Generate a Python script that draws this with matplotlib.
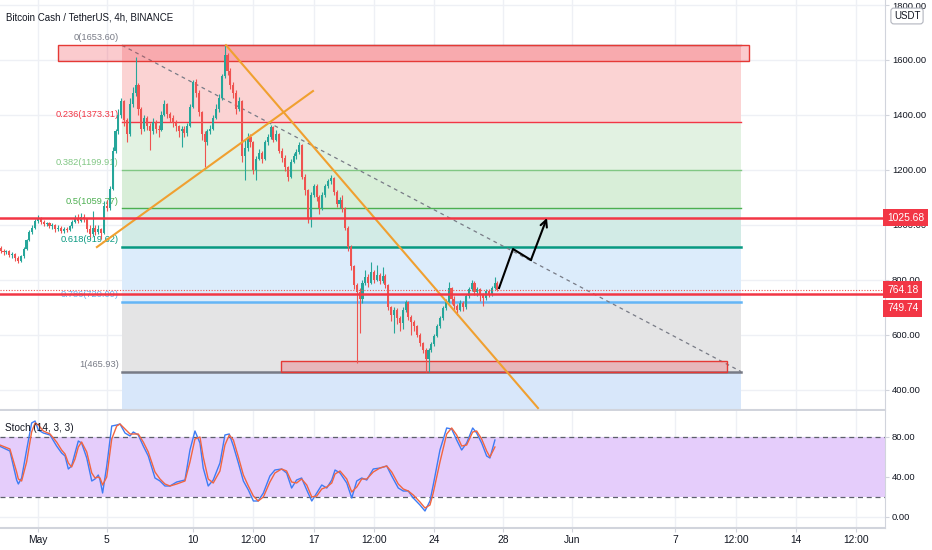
import numpy as np
import pandas as pd
import matplotlib
matplotlib.use("Agg")
import matplotlib.pyplot as plt
from matplotlib.patches import Rectangle

plt.rcParams['font.family'] = ['Liberation Sans', 'DejaVu Sans']

# --- BCH/USDT 4h candles, x = days since 2021-05-01
base = pd.Timestamp("2021-05-01")
first_open = 915
closes = [905, 900, 905, 890, 895, 878, 870, 885, 912, 945,
          975, 990, 1015, 1025, 1010, 1002, 1005, 995, 1000, 985,
          990, 978, 985, 982, 995, 1010, 1025, 1015, 1030, 1020,
          985, 965, 990, 975, 985, 970, 1070, 1060, 1130, 1270,
          1340, 1400, 1450, 1380, 1330, 1440, 1480, 1510, 1420, 1350,
          1390, 1360, 1340, 1375, 1350, 1345, 1400, 1440, 1405, 1390,
          1370, 1360, 1340, 1350, 1335, 1360, 1430, 1520, 1480, 1410,
          1330, 1300, 1340, 1350, 1390, 1420, 1460, 1540, 1620, 1560,
          1510, 1480, 1420, 1450, 1250, 1280, 1320, 1300, 1200, 1240,
          1260, 1240, 1300, 1320, 1356, 1310, 1330, 1270, 1245, 1210,
          1175, 1230, 1250, 1265, 1290, 1175, 1125, 1020, 1110, 1140,
          1100, 1060, 1110, 1140, 1160, 1170, 1120, 1075, 1090, 1060,
          990, 920, 850, 780, 755, 730, 790, 810, 790, 828,
          800, 818, 795, 815, 780, 700, 672, 690, 660, 643,
          690, 720, 665, 645, 630, 600, 570, 545, 510, 545,
          565, 595, 630, 660, 697, 720, 770, 730, 705, 690,
          715, 700, 740, 765, 790, 755, 765, 745, 735, 760,
          745, 770, 790, 764.18]
highs = [922, 912, 910, 908, 900, 898, 885, 890, 918, 950,
         982, 998, 1022, 1036, 1030, 1018, 1012, 1010, 1006, 1004,
         998, 995, 992, 992, 1000, 1018, 1035, 1040, 1042, 1038,
         1025, 1000, 1050, 998, 1000, 990, 1085, 1092, 1140, 1285,
         1350, 1420, 1462, 1455, 1390, 1462, 1500, 1611, 1515, 1430,
         1400, 1395, 1372, 1390, 1380, 1365, 1415, 1454, 1445, 1412,
         1398, 1380, 1365, 1360, 1358, 1372, 1440, 1527, 1530, 1490,
         1415, 1340, 1350, 1365, 1400, 1440, 1475, 1550, 1653.6, 1625,
         1570, 1520, 1490, 1465, 1455, 1310, 1335, 1330, 1305, 1250,
         1275, 1270, 1310, 1330, 1365, 1360, 1345, 1335, 1280, 1255,
         1215, 1240, 1262, 1275, 1300, 1295, 1185, 1130, 1120, 1150,
         1148, 1110, 1118, 1150, 1168, 1180, 1175, 1125, 1100, 1110,
         1065, 995, 925, 855, 790, 770, 800, 836, 820, 865,
         835, 855, 825, 845, 822, 785, 705, 700, 698, 668,
         700, 725, 722, 670, 652, 635, 605, 575, 550, 552,
         575, 602, 638, 668, 705, 730, 792, 775, 740, 712,
         725, 722, 748, 772, 798, 795, 775, 770, 752, 768,
         765, 778, 810, 795]
lows = [898, 890, 893, 882, 878, 868, 860, 866, 880, 908,
        940, 968, 985, 1008, 1002, 995, 994, 988, 985, 975,
        978, 970, 972, 975, 976, 990, 1005, 1008, 1010, 1012,
        975, 955, 960, 962, 968, 950, 965, 1050, 1055, 1125,
        1260, 1330, 1390, 1360, 1300, 1325, 1430, 1470, 1400, 1330,
        1340, 1345, 1272, 1330, 1335, 1320, 1340, 1395, 1390, 1375,
        1355, 1342, 1320, 1285, 1318, 1325, 1355, 1425, 1465, 1395,
        1310, 1210, 1290, 1330, 1345, 1385, 1410, 1455, 1535, 1545,
        1495, 1460, 1405, 1415, 1230, 1163, 1270, 1285, 1185, 1163,
        1235, 1225, 1235, 1290, 1312, 1300, 1305, 1260, 1230, 1195,
        1160, 1170, 1225, 1240, 1258, 1165, 1110, 1005, 992, 1100,
        1085, 1040, 1055, 1100, 1135, 1150, 1110, 1065, 1060, 1045,
        980, 905, 835, 765, 497, 606, 715, 780, 775, 785,
        790, 795, 785, 788, 770, 690, 650, 605, 640, 615,
        620, 682, 655, 600, 612, 590, 560, 535, 466, 466,
        538, 560, 590, 625, 655, 690, 715, 712, 690, 670,
        685, 688, 695, 735, 758, 745, 740, 722, 705, 728,
        738, 742, 765, 758]
candle_time = pd.date_range("2021-04-28 20:00", periods=len(closes), freq="4h")

# --- Fibonacci retracement (0 = 1653.60 high, 1 = 465.93 low)
fib_ratios = [0, 0.236, 0.382, 0.5, 0.618, 0.786, 1]
fib_prices = [1653.60, 1373.31, 1199.91, 1059.77, 919.62, 720.09, 465.93]
fib_colors = ['#787b86', '#f23645', '#81c784', '#4caf50', '#089981', '#64b5f6', '#787b86']
fib_fills = ['#fbd3d3', '#e2f2e2', '#d8eed8', '#d2ebe6', '#dcecfb', '#e4e4e5']
fib_below_fill = '#d8e7fa'
fib_days = [4.875, 40.8]

# drawings
zones = [(1.16, 41.27, 1596, 1653.6), (14.1, 39.99, 466, 505)]   # day0, day1, low, high
trend_down = ([10.91, 29.02], [1654, 333])
trend_up = ([3.42, 15.96], [919, 1487])
arrow_days = [26.76, 27.57, 28.61, 29.54]
arrow_prices = [770, 912, 872, 1025]
hlines = [1025.68, 749.74]
last_price = 764.18

# --- Stoch (14, 3, 3)
stoch_day = [-2.21, -1.63, -1.24, -1.14, -0.95, -0.66, -0.37, -0.17, 0.02, 0.31,
             0.70, 1.08, 1.37, 1.57, 1.76, 1.95, 2.15, 2.34, 2.53, 2.83,
             3.12, 3.31, 3.50, 3.60, 3.75, 3.99, 4.28, 4.57, 4.76, 5.05,
             5.34, 5.53, 5.82, 6.11, 6.40, 6.79, 7.08, 7.37, 7.66, 8.05,
             8.53, 8.82, 9.11, 9.40, 9.59, 9.88, 10.17, 10.56, 10.85, 11.10,
             11.34, 11.63, 11.92, 12.21, 12.50, 12.78, 13.08, 13.46, 13.75, 14.14,
             14.43, 14.72, 15.01, 15.30, 15.60, 15.89, 16.18, 16.47, 16.76, 17.05,
             17.24, 17.53, 17.92, 18.21, 18.50, 18.79, 19.08, 19.46, 19.85, 20.24,
             20.53, 20.91, 21.20, 21.49, 21.78, 22.17, 22.46, 22.75, 22.94, 23.33,
             23.72, 24.01, 24.30, 24.59, 24.88, 25.23, 25.46, 25.75, 26.04, 26.23,
             26.52]
stoch_k = [70.7, 66, 37, 33, 39, 67, 94, 96, 87, 84,
           82, 71, 64, 61, 48, 51, 64, 76, 74, 59,
           36, 38, 42, 37, 24, 51, 91, 92, 93, 84,
           81, 85, 82, 71, 61, 39, 36, 31, 31, 35,
           37, 67, 86, 74, 49, 31, 37, 54, 82, 83,
           71, 54, 36, 27, 16, 16, 24, 41, 47, 48,
           44, 29, 37, 39, 27, 16, 24, 32, 29, 37,
           47, 44, 34, 19, 36, 39, 37, 48, 49, 51,
           41, 29, 26, 26, 19, 12, 6, 16, 32, 67,
           89, 88, 77, 67, 74, 89, 84, 74, 61, 59,
           77]
stoch_d = [72, 68, 45, 38, 36, 55, 85, 94, 92, 86,
           83, 75, 67, 63, 54, 50, 58, 70, 75, 65,
           44, 39, 40, 39, 32, 40, 78, 91, 93, 88,
           83, 83, 83, 75, 65, 45, 38, 33, 31, 33,
           36, 55, 78, 80, 60, 38, 34, 46, 72, 82,
           77, 60, 42, 31, 21, 16, 20, 35, 44, 48,
           46, 35, 34, 38, 32, 20, 21, 28, 30, 34,
           43, 46, 38, 25, 30, 38, 38, 45, 49, 51,
           45, 33, 28, 26, 22, 15, 9, 12, 24, 55,
           83, 89, 82, 71, 72, 85, 86, 78, 66, 60,
           70]

tick_days = [0, 4, 9, 12.5, 16, 19.5, 23, 27, 31, 37, 40.5, 44, 47.5]
tick_labels = ['May', '5', '10', '12:00', '17', '12:00', '24', '28', 'Jun', '7', '12:00', '14', '12:00']

TXT = '#131722'
GRID = '#eef0f5'
SEP = '#d1d4dc'

fig = plt.figure(figsize=(9.32, 5.5), dpi=100, facecolor='white')
ax = fig.add_axes([0, 140 / 550, 885 / 932, 410 / 550])
ax2 = fig.add_axes([0, 22 / 550, 885 / 932, 117 / 550], sharex=ax)

# ---- price pane
cd = ((candle_time - base) / pd.Timedelta(days=1)).values
c = np.array(closes, dtype=float)
o = np.array([first_open] + closes[:-1], dtype=float)
col = np.where(c >= o, '#26a69a', '#ef5350')

f0, f1 = fib_days
for i in range(len(fib_fills)):
    ax.fill_between([f0, f1], fib_prices[i + 1], fib_prices[i], color=fib_fills[i], lw=0, zorder=1)
ax.fill_between([f0, f1], 0, fib_prices[-1], color=fib_below_fill, lw=0, zorder=1)
for r, p, fc in zip(fib_ratios, fib_prices, fib_colors):
    lw = 1.8 if r in (0.618, 0.786, 1) else 1.0
    ax.plot([f0, f1], [p, p], color=fc, lw=lw, zorder=2)
    ax.annotate(f"{r:g}({p:.2f})", xy=(f0, p), xytext=(-2.5, 2), textcoords='offset points',
                ha='right', va='bottom', color=fc, fontsize=6.7)
ax.plot([f0, f1], [fib_prices[0], fib_prices[-1]], color='#787b86', lw=0.9,
        ls=(0, (3, 3)), zorder=3)

for d0, d1, lo, hi in zones:
    ax.add_patch(Rectangle((d0, lo), d1 - d0, hi - lo, fc='#f23645', alpha=0.26, lw=0, zorder=3))
    ax.add_patch(Rectangle((d0, lo), d1 - d0, hi - lo, fc='none', ec='#e53935', lw=1.0, zorder=3))

ax.vlines(cd, lows, highs, colors=col, lw=0.8, zorder=4)
ax.bar(cd, np.maximum(np.abs(c - o), 3), bottom=np.minimum(o, c), width=0.12,
       color=col, lw=0, zorder=5)

ax.plot(*trend_down, color='#f0a030', lw=1.5, zorder=6)
ax.plot(*trend_up, color='#f0a030', lw=1.5, zorder=6)
ax.plot(arrow_days[:-1], arrow_prices[:-1], color='black', lw=1.5, zorder=7)
ax.annotate('', xy=(arrow_days[-1], arrow_prices[-1]), xytext=(arrow_days[-2], arrow_prices[-2]),
            arrowprops=dict(arrowstyle='->', color='black', lw=1.5, mutation_scale=12,
                            shrinkA=0, shrinkB=0), zorder=7)

for h in hlines:
    ax.axhline(h, color='#f23645', lw=1.8, zorder=6)
ax.axhline(last_price, color='#ef5350', lw=0.8, ls=(0, (1, 1.5)), zorder=6)

ax.set_xlim(-2.205, 49.16)
ax.set_ylim(325.9, 1818.4)
ax.set_yticks([400, 600, 800, 1000, 1200, 1400, 1600, 1800])
ax.yaxis.set_major_formatter(matplotlib.ticker.FormatStrFormatter('%.2f'))
ax.set_xticks(tick_days)
ax.tick_params(axis='x', which='both', length=0, labelbottom=False)

# ---- stoch pane
ax2.axhspan(20, 80, color='#e5cdfb', lw=0, zorder=1)
for lv in (80, 20):
    ax2.axhline(lv, color='#5d606b', lw=0.9, ls=(0, (4, 3)), zorder=2)
ax2.plot(stoch_day, stoch_k, color='#3d7cf5', lw=1.0, zorder=3)
ax2.plot(stoch_day, stoch_d, color='#f26540', lw=1.0, zorder=3)
ax2.set_ylim(-11, 106)
ax2.set_yticks([0, 40, 80])
ax2.yaxis.set_major_formatter(matplotlib.ticker.FormatStrFormatter('%.2f'))
ax2.set_xticks(tick_days)
ax2.set_xticklabels(tick_labels)
ax2.tick_params(axis='x', length=3, color=SEP, labelsize=7.4, labelcolor=TXT, pad=2)

for a in (ax, ax2):
    a.set_facecolor('white')
    a.grid(True, color=GRID, lw=1)
    a.set_axisbelow(True)
    a.yaxis.tick_right()
    a.tick_params(axis='y', length=3, color=SEP, labelsize=6.8, labelcolor=TXT, pad=2)
    for s in ('top', 'left'):
        a.spines[s].set_visible(False)
    a.spines['right'].set_color(SEP)
    a.spines['bottom'].set_color(SEP)
    a.spines['bottom'].set_linewidth(1.5)

# right-axis price tags
def price_tag(y, text, dy=0):
    ax.annotate(text, xy=(1, y), xycoords=('axes fraction', 'data'), xytext=(1.5, dy),
                textcoords='offset points', ha='left', va='center', color='white', fontsize=7.4,
                bbox=dict(boxstyle='square,pad=0.35', fc='#f23645', ec='none'),
                annotation_clip=False, zorder=10)

price_tag(hlines[0], '1025.68')
price_tag(last_price, '764.18')
price_tag(hlines[1], '749.74', dy=-10.5)

fig.text(907 / 932, 1 - 16 / 550, 'USDT', ha='center', va='center', fontsize=7, color=TXT,
         bbox=dict(boxstyle='round,pad=0.3', fc='white', ec='#b2b5be', lw=0.8))
fig.text(6 / 932, 1 - 17 / 550, 'Bitcoin Cash / TetherUS, 4h, BINANCE', ha='left', va='center',
         fontsize=7.0, color=TXT)
fig.text(5 / 932, 1 - 428 / 550, 'Stoch (14, 3, 3)', ha='left', va='center', fontsize=7.2, color=TXT)

fig.savefig('out.png', dpi=100, facecolor='white')
